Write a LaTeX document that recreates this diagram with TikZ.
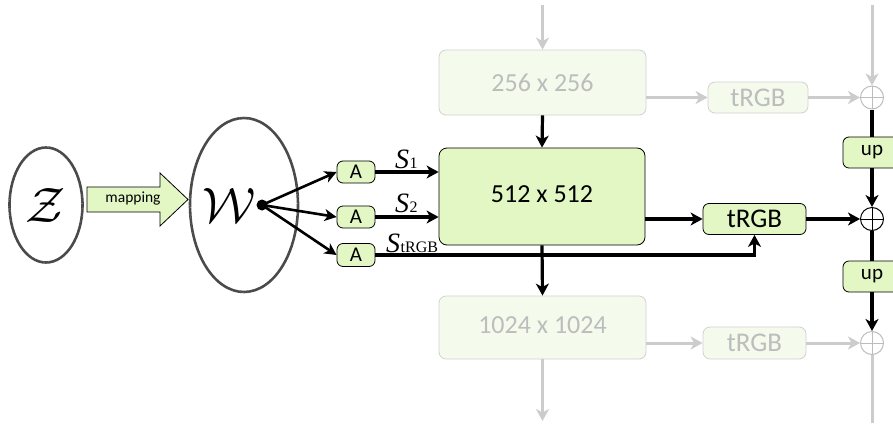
\documentclass[tikz,border=0pt]{standalone}
\usepackage{fontspec}
\setmainfont{Carlito}
\newfontfamily\timesfont{Liberation Serif}
\usetikzlibrary{arrows.meta,shapes.geometric}

\definecolor{grn}{HTML}{E2F7C4}
\definecolor{fadefill}{HTML}{F4FAEC}
\definecolor{fadeline}{HTML}{D2D2D2}
\definecolor{fadetext}{HTML}{BDBDBD}
\definecolor{fadearrow}{HTML}{CCCCCC}
\definecolor{pencil}{HTML}{4A4A4A}

\tikzset{
  gbox/.style={draw=black, line width=0.8pt, fill=grn, rounded corners=6pt, inner sep=0pt},
  fbox/.style={draw=fadeline, line width=0.8pt, fill=fadefill, text=fadetext, rounded corners=7pt, inner sep=0pt},
  blk/.style={line width=3.2pt, -{Stealth[length=12pt,width=13pt,inset=3.5pt]}},
  blkline/.style={line width=3.2pt},
  thin blk/.style={line width=2.6pt, -{Stealth[length=12pt,width=12pt,inset=3.5pt]}},
  gry/.style={line width=3pt, draw=fadearrow, -{Stealth[length=12pt,width=13pt,inset=3.5pt]}},
  gryline/.style={line width=3pt, draw=fadearrow},
  space/.style={ellipse, draw=pencil, line width=2.6pt, dash pattern=on 1.5pt off 0.3pt, inner sep=0pt},
  sumnode/.style={circle, draw=#1, line width=1pt, minimum size=23pt, inner sep=0pt,
    path picture={\draw[#1, line width=1pt]
      (path picture bounding box.north) -- (path picture bounding box.south)
      (path picture bounding box.west) -- (path picture bounding box.east);}},
  big/.style={font=\fontsize{26}{26}\selectfont},
  rgbfont/.style={font=\fontsize{27}{27}\selectfont},
  mid/.style={font=\fontsize{21}{21}\selectfont},
  small/.style={font=\fontsize{21}{21}\selectfont},
  stylelbl/.style={inner sep=0pt, anchor=base west},
  latentlbl/.style={inner sep=0pt, scale=2.4}
}

\newcommand{\stylecode}[1]{{\timesfont\fontsize{28}{28}\selectfont\textit{S}\kern0.5pt{\fontsize{16}{16}\selectfont #1}}}

\begin{document}
\begin{tikzpicture}[x=1pt, y=-1pt]
\useasboundingbox (0,0) rectangle (893,423);

% latent spaces
\node[space, minimum width=73pt, minimum height=115pt] (Z) at (46,205) {};
\node[latentlbl] at (46,205) (Zlbl) {\fontsize{20}{20}\selectfont$\mathcal{Z}$};
\node[space, minimum width=108pt, minimum height=174pt] (W) at (244,205) {};
\node[latentlbl] at (229,205) (Wlbl) {\fontsize{20}{20}\selectfont$\mathcal{W}$};
\fill (262,205) circle (5.5pt) coordinate (w);

% mapping network arrow
\draw[line width=0.8pt, fill=grn]
  (87,187) -- (160,187) -- (160,173) -- (188,199.5) -- (160,226) -- (160,212) -- (87,212) -- cycle;
\node[font=\fontsize{15.5}{15.5}\selectfont] (map) at (133,198) {mapping};

% affine transforms
\node[gbox, small, minimum width=38pt, minimum height=22pt] (A1) at (356,172) {A};
\node[gbox, small, minimum width=38pt, minimum height=22pt] (A2) at (356,217) {A};
\node[gbox, small, minimum width=38pt, minimum height=23pt] (A3) at (356,255) {A};

% synthesis blocks
\node[fbox, big, minimum width=207pt, minimum height=65pt] (b256) at (542.5,82.5) {256 x 256};
\node[gbox, big, minimum width=206pt, minimum height=97pt, rounded corners=8pt] (b512) at (542,196.5) {\raisebox{5pt}{512 x 512}};
\node[fbox, big, minimum width=207pt, minimum height=63pt] (b1024) at (542.5,327.5) {\raisebox{4pt}{1024 x 1024}};

% toRGB blocks
\node[fbox, rgbfont, minimum width=100pt, minimum height=31pt] (t256) at (758,97.5) {tRGB};
\node[gbox, rgbfont, minimum width=103pt, minimum height=31pt] (t512) at (754.5,219) {tRGB};
\node[fbox, rgbfont, minimum width=103pt, minimum height=32pt] (t1024) at (754.5,343) {tRGB};

% skip-connection sums and upsampling
\node[sumnode=fadetext] (p1) at (872,97.5) {};
\node[sumnode=black] (p2) at (872,219) {};
\node[sumnode=fadetext] (p3) at (872,343) {};
\node[gbox, mid, minimum width=58pt, minimum height=31pt] (up1) at (872,152.5) {up};
\node[gbox, mid, minimum width=58pt, minimum height=31pt] (up2) at (872,276.5) {up};

% faded context connectors
\coordinate (topin) at (542.5,5);
\coordinate (topsum) at (872,5);
\coordinate (botout) at (542.5,421);
\coordinate (botsum) at (872,423);
\draw[gry] (topin) -- (b256.north);
\draw[gry] (topsum) -- (p1.north);
\draw[gry] (b256.east |- t256) -- (t256.west);
\draw[gry] (t256.east) -- (p1.west);
\draw[gry] (b1024.east |- t1024) -- (t1024.west);
\draw[gry] (t1024.east) -- (p3.west);
\draw[gry] (b1024.south) -- (botout);
\draw[gryline] (p3.south) -- (botsum);

% W to affine transforms
\draw[thin blk] (w) -- (A1.west);
\draw[thin blk] (w) -- (A2.west);
\draw[thin blk] (w) -- (A3.west);

% style codes
\draw[blk] (A1.east) -- (A1.east -| b512.west);
\draw[blk] (A2.east) -- (A2.east -| b512.west);
\draw[blk] (A3.east) -- (A3.east -| t512.south) -- (t512.south);
\node[stylelbl] (s1lbl) at (395,168) {\stylecode{1}};
\node[stylelbl] (s2lbl) at (395,212) {\stylecode{2}};
\node[stylelbl] (stlbl) at (386,252) {\stylecode{tRGB}};

% main data flow
\draw[blk] (b256.south) -- (b512.north);
\draw[blk] (b512.south) -- (b1024.north);
\draw[blk] (b512.east |- t512) -- (t512.west);
\draw[blk] (t512.east) -- (p2.west);
\draw[blkline] (p1.south) -- (up1.north);
\draw[blk] (up1.south) -- (p2.north);
\draw[blkline] (p2.south) -- (up2.north);
\draw[blk] (up2.south) -- (p3.north);

\end{tikzpicture}
\end{document}
